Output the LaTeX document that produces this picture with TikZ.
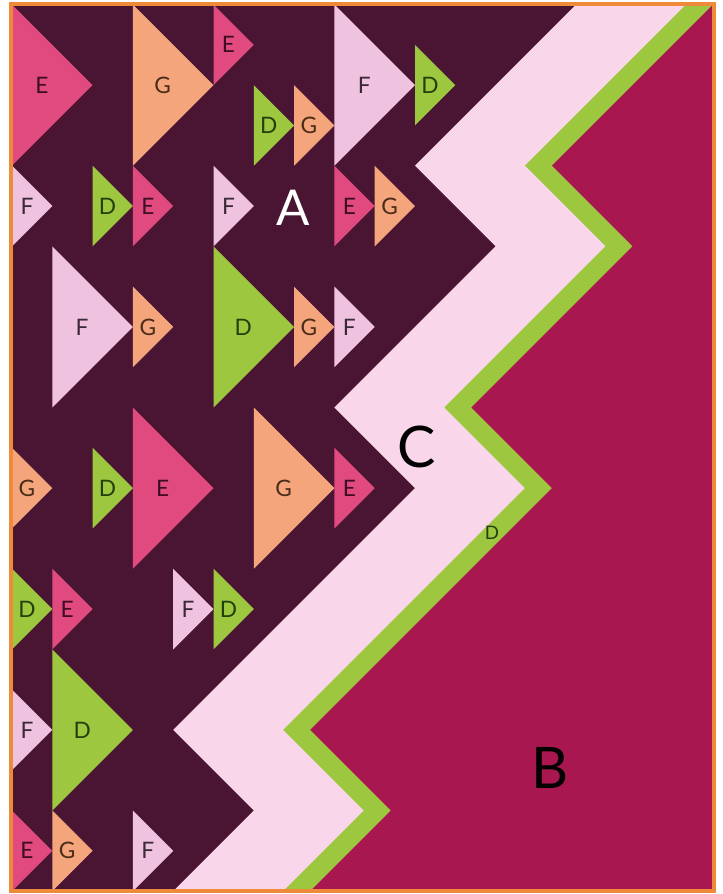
\documentclass[tikz,border=0pt]{standalone}
\usepackage{fontspec}
\setmainfont{Lato}
\usepackage{xcolor}
\usepackage{tikz}
\usetikzlibrary{calc}

\definecolor{colPlum}{HTML}{4A1532}
\definecolor{colC}{HTML}{F9D6EA}
\definecolor{colB}{HTML}{A8174F}
\definecolor{colD}{HTML}{9DC73F}
\definecolor{colE}{HTML}{E04A7E}
\definecolor{colF}{HTML}{EFC2DF}
\definecolor{colG}{HTML}{F5A57C}
\definecolor{colBorder}{HTML}{EE8A3A}
\definecolor{txtD}{HTML}{22400C}
\definecolor{txtE}{HTML}{3E0C26}
\definecolor{txtF}{HTML}{3A2A38}
\definecolor{txtG}{HTML}{4A2C18}

\begin{document}
\begin{tikzpicture}[
    x=30.225pt, y=-30.225pt,
    patch/.style={inner sep=0pt, font=\fontsize{17}{17}\selectfont},
    region/.style={inner sep=0pt, font=\fontsize{43}{43}\selectfont},
    edge/.style={draw=colBorder, line width=3pt}
]
\fill[white] (-0.298,-0.112) rectangle (17.618,22.072);
\useasboundingbox (-0.298,-0.112) rectangle (17.618,22.072);

% background and zigzag bands
\begin{scope}
\clip (0,0) rectangle (17.37,22);
\fill[colPlum] (0,0) rectangle (17.37,22);
\foreach \s/\c in {0/colC, 2.73/colD, 3.40/colB}
  \fill[\c, shift={(\s,0)}] (14,0) -- (10,4) -- (12,6) -- (8,10) -- (10,12)
    -- (4,18) -- (6,20) -- (4,22) -- (20,22) -- (20,0) -- cycle;
\end{scope}

% flying geese: letter / left x / centre y / half height
\foreach \c/\x/\y/\h [count=\i] in {
    E/0/2/2, G/3/2/2, E/5/1/1, D/6/3/1, G/7/3/1, F/8/2/2, D/10/2/1,
    F/0/5/1, D/2/5/1, E/3/5/1, F/5/5/1, E/8/5/1, G/9/5/1,
    F/1/8/2, G/3/8/1, D/5/8/2, G/7/8/1, F/8/8/1,
    G/0/12/1, D/2/12/1, E/3/12/2, G/6/12/2, E/8/12/1,
    D/0/15/1, E/1/15/1, F/4/15/1, D/5/15/1,
    F/0/18/1, D/1/18/2,
    E/0/21/1, G/1/21/1, F/3/21/1}{
  \fill[col\c] (\x,\y-\h) -- (\x+\h,\y) -- (\x,\y+\h) -- cycle;
  \node[patch, text=txt\c] (goose\i) at (\x+0.37*\h,\y) {\c};
}

% region letters
\node[region, text=white, font=\fontsize{37}{37}\selectfont] (areaA) at (6.97,5.05) {A};
\node[region, text=black] (areaC) at (10.05,10.98) {C};
\node[region, text=black] (areaB) at (13.35,18.95) {B};
\node[patch, text=txtD, font=\fontsize{14}{14}\selectfont] (bandD) at (11.91,13.11) {D};

\draw[edge] (-0.025,-0.012) rectangle (17.42,21.99);
\end{tikzpicture}
\end{document}
